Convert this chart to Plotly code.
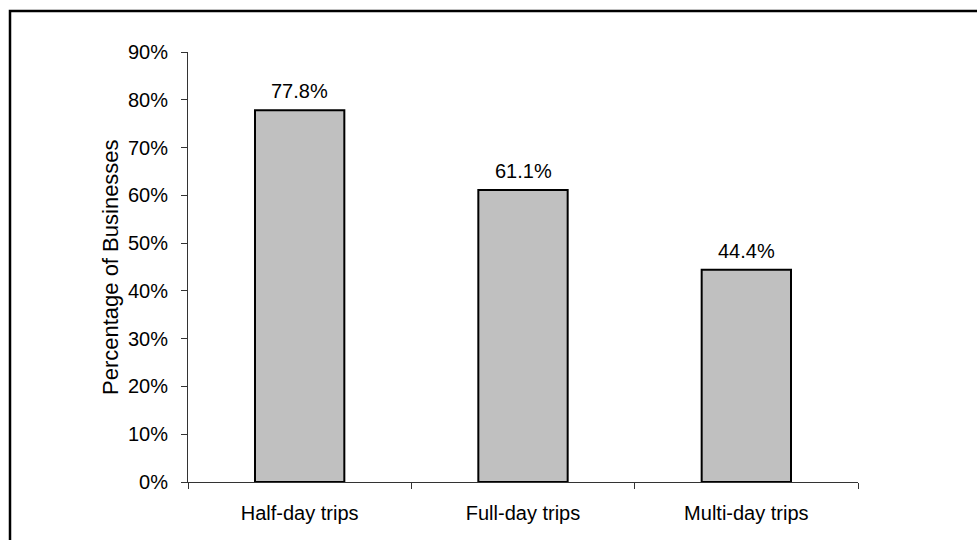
import plotly.graph_objects as go

# Share of businesses offering each trip length
categories = ["Half-day trips", "Full-day trips", "Multi-day trips"]
values = [77.8, 61.1, 44.4]
y_ticks = [0, 10, 20, 30, 40, 50, 60, 70, 80, 90]
y_tick_labels = [f"{t}%" for t in y_ticks]

FONT = "Liberation Sans, Arial, sans-serif"

fig = go.Figure()
fig.add_trace(go.Bar(
    x=categories,
    y=values,
    width=0.4,
    marker=dict(color="#C0C0C0", line=dict(color="#000000", width=2)),
    hoverinfo="skip",
))

# Value labels above the bars
for cat, val in zip(categories, values):
    fig.add_annotation(
        x=cat, y=val, text=f"{val:.1f}%",
        showarrow=False, yanchor="bottom", yshift=6,
        font=dict(family=FONT, size=20, color="#000000"),
    )

# Rotated axis title
fig.add_annotation(
    xref="paper", yref="paper", x=(110 - 188) / 670, y=0.5,
    text="Percentage of Businesses", textangle=-90,
    showarrow=False, xanchor="center", yanchor="middle",
    font=dict(family=FONT, size=22, color="#000000"),
)

# Outer frame around the chart
fig.add_shape(
    type="rect", xref="paper", yref="paper",
    x0=(10 - 188) / 670, x1=2.0, y0=-1.0, y1=(482 - 11) / 430,
    line=dict(color="#000000", width=2.5), fillcolor="rgba(0,0,0,0)",
    layer="above",
)

fig.update_layout(
    width=977, height=540,
    margin=dict(l=188, r=119, t=52, b=58, autoexpand=False),
    paper_bgcolor="#FFFFFF", plot_bgcolor="#FFFFFF",
    showlegend=False,
    font=dict(family=FONT, size=20, color="#000000"),
    bargap=0.6,
)
fig.update_xaxes(
    range=[-0.5, 2.5],
    showline=True, linecolor="#333333", linewidth=1,
    ticks="outside", tickson="boundaries", ticklen=6, tickcolor="#333333",
    showgrid=False, zeroline=False,
    tickfont=dict(family=FONT, size=20, color="#000000"),
    ticklabelstandoff=13,
)
fig.update_yaxes(
    range=[0, 90], tickvals=y_ticks, ticktext=y_tick_labels,
    showline=True, linecolor="#333333", linewidth=1,
    ticks="outside", ticklen=6, tickcolor="#333333",
    showgrid=False, zeroline=False,
    tickfont=dict(family=FONT, size=20, color="#000000"),
    ticklabelstandoff=9,
)

fig.write_html("out.html")
